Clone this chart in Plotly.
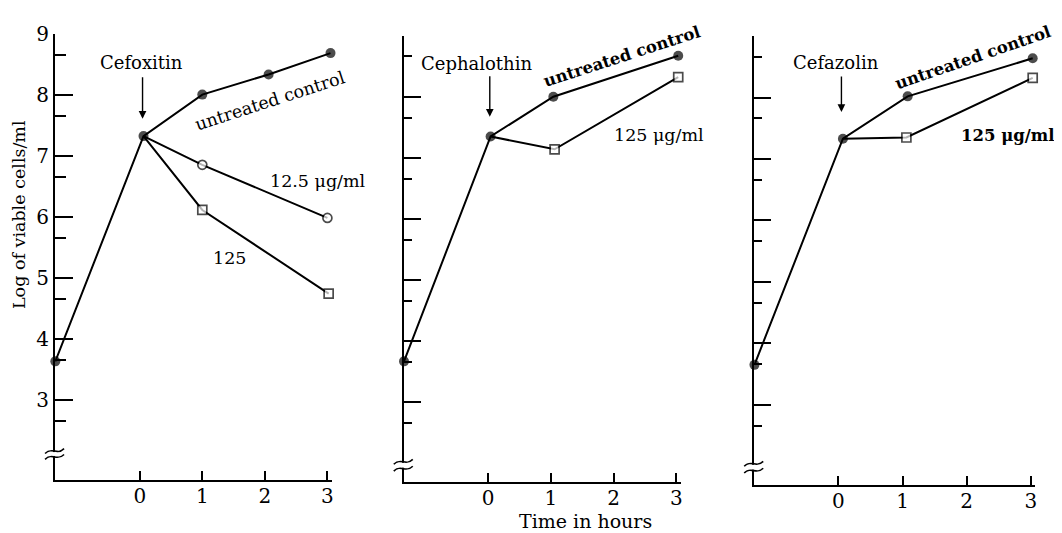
import plotly.graph_objects as go

# ---------------- data ----------------
hour_ticks = [0, 1, 2, 3]
hour_labels = ["0", "1", "2", "3"]
log_ticks = [3, 4, 5, 6, 7, 8, 9]
log_labels = ["3", "4", "5", "6", "7", "8", "9"]
log_minor = [2.66, 3.66, 4.66, 5.66, 6.66, 7.66, 8.66]

# Panel 1 - Cefoxitin
cefox_ctrl_t = [-1.35, 0.06, 1.0, 2.06, 3.05]
cefox_ctrl_y = [3.64, 7.33, 8.01, 8.34, 8.69]
cefox_12_t = [0.06, 1.0, 3.0]
cefox_12_y = [7.33, 6.86, 5.99]
cefox_125_t = [0.06, 1.0, 3.02]
cefox_125_y = [7.33, 6.12, 4.75]

# Panel 2 - Cephalothin
ceph_ctrl_t = [-1.34, 0.04, 1.04, 3.03]
ceph_ctrl_y = [3.67, 7.35, 8.00, 8.67]
ceph_125_t = [0.04, 1.06, 3.03]
ceph_125_y = [7.35, 7.14, 8.32]

# Panel 3 - Cefazolin
cefaz_ctrl_t = [-1.31, 0.07, 1.08, 3.03]
cefaz_ctrl_y = [3.65, 7.33, 8.02, 8.64]
cefaz_125_t = [0.07, 1.06, 3.03]
cefaz_125_y = [7.33, 7.35, 8.32]

# ---------------- layout helpers ----------------
W, H = 1062, 533
FONT = "DejaVu Serif"
# the page body has an 8 px margin, so the plotly paper starts at (8, 8)
PX0, PW, PY0, PH = 8.0, float(W), 8.0, float(H)


def px(x):
    return (x - PX0) / PW


def py(y):
    return 1 - (y - PY0) / PH


XMAX = 3.07
YMIN, YMAX = 1.69, 9.0

panels = [
    dict(start=cefox_ctrl_t[0], t0=140.0, t3=328.0, ytop=22.5, ybot=479.0,
         mj=18, mn=11, labels=True, brk=(449, 455)),
    dict(start=ceph_ctrl_t[0], t0=489.0, t3=677.6, ytop=24.0, ybot=481.0,
         mj=17, mn=8, labels=False, brk=(460, 467)),
    dict(start=cefaz_ctrl_t[0], t0=840.0, t3=1032.7, ytop=24.5, ybot=484.0,
         mj=17, mn=8, labels=False, brk=(462, 469)),
]

fig = go.Figure()

LINE = dict(color="black", width=2)


def add_series(t, y, ax, symbol, first_hidden, filled_marker):
    n = len(t)
    if filled_marker:
        sizes = [0 if (first_hidden and i == 0) else 10 for i in range(n)]
        marker = dict(symbol=symbol, size=sizes, color="black", line=dict(width=0))
    else:
        sizes = [0 if (first_hidden and i == 0) else 9 for i in range(n)]
        marker = dict(symbol=symbol, size=sizes, color="white",
                      line=dict(color="black", width=1.7))
    fig.add_trace(go.Scatter(x=t, y=y, mode="lines+markers", line=LINE,
                             marker=marker, xaxis="x" + ax, yaxis="y" + ax,
                             cliponaxis=False, showlegend=False,
                             hoverinfo="x+y"))


# panel 1
add_series(cefox_12_t, cefox_12_y, "", "circle", True, False)
add_series(cefox_125_t, cefox_125_y, "", "square", True, False)
add_series(cefox_ctrl_t, cefox_ctrl_y, "", "circle", False, True)
# panel 2
add_series(ceph_125_t, ceph_125_y, "2", "square", True, False)
add_series(ceph_ctrl_t, ceph_ctrl_y, "2", "circle", False, True)
# panel 3
add_series(cefaz_125_t, cefaz_125_y, "3", "square", True, False)
add_series(cefaz_ctrl_t, cefaz_ctrl_y, "3", "circle", False, True)

layout = dict(width=W, height=H, margin=dict(l=0, r=0, t=0, b=0, pad=0),
              paper_bgcolor="white", plot_bgcolor="white", showlegend=False,
              font=dict(family=FONT, color="black"))

shapes = []
for i, p in enumerate(panels):
    sfx = "" if i == 0 else str(i + 1)
    unit = (p["t3"] - p["t0"]) / 3.0
    xmin = p["start"] - 0.004
    xleft = p["t0"] + xmin * unit
    xright = p["t0"] + XMAX * unit
    layout["xaxis" + sfx] = dict(
        domain=[px(xleft), px(xright)], range=[xmin, XMAX],
        anchor="y" + sfx, tickvals=hour_ticks, ticktext=hour_labels,
        ticks="inside", ticklen=9, tickwidth=1.6, tickcolor="black",
        ticklabelstandoff=-3,
        showline=True, linewidth=2, linecolor="black", showgrid=False,
        zeroline=False, tickfont=dict(family=FONT, size=20, color="black"),
        fixedrange=True)
    layout["yaxis" + sfx] = dict(
        domain=[py(p["ybot"]), py(p["ytop"])], range=[YMIN, YMAX],
        anchor="x" + sfx, tickvals=log_ticks, ticktext=log_labels,
        showticklabels=p["labels"], ticks="inside", ticklen=p["mj"],
        tickwidth=1.6, tickcolor="black", showline=True, linewidth=2,
        linecolor="black", showgrid=False, zeroline=False,
        tickfont=dict(family=FONT, size=20, color="black"),
        minor=dict(tickvals=log_minor, ticks="inside", ticklen=p["mn"],
                   tickwidth=1.6, tickcolor="black", showgrid=False),
        fixedrange=True)
    # axis break on the y axis
    ax = xleft
    y1, y2 = p["brk"]
    shapes.append(dict(type="rect", xref="paper", yref="paper",
                       x0=px(ax - 3), x1=px(ax + 3), y0=py(y2 - 1), y1=py(y1 + 1),
                       fillcolor="white", line=dict(width=0), layer="above"))
    for yy in (y1, y2):
        path = "M {:.5f},{:.5f} C {:.5f},{:.5f} {:.5f},{:.5f} {:.5f},{:.5f}".format(
            px(ax - 10), py(yy + 2.5), px(ax - 3), py(yy - 5),
            px(ax + 2), py(yy + 5), px(ax + 9), py(yy - 2.5))
        shapes.append(dict(type="path", xref="paper", yref="paper", path=path,
                           line=dict(color="black", width=1.6), layer="above"))

layout["shapes"] = shapes


def txt(x, y, s, size=18, bold=False, angle=0):
    if bold:
        s = "<b>" + s + "</b>"
    return dict(x=px(x), y=py(y), xref="paper", yref="paper", text=s,
                showarrow=False, textangle=angle, xanchor="center",
                yanchor="middle", font=dict(family=FONT, size=size, color="black"))


def arrow(x, ytail, ytip):
    return dict(x=px(x), y=py(ytip), xref="paper", yref="paper", text="",
                showarrow=True, ax=0, ay=-(ytip - ytail), axref="pixel",
                ayref="pixel", arrowhead=2, arrowsize=1.1, arrowwidth=1.4,
                arrowcolor="black", standoff=0, startstandoff=0)


annotations = [
    txt(18.5, 207, "Log of viable cells/ml", size=17.5, angle=-90),
    txt(587, 521, "Time in hours", size=19),
    # panel 1
    txt(142, 51, "Cefoxitin"),
    arrow(142.8, 66, 109),
    txt(270, 91, "untreated control", size=17.5, angle=-18),
    txt(319, 173, "12.5 \u03bcg/ml", size=17.5),
    txt(230, 251, "125", size=17.5),
    # panel 2
    txt(477, 53, "Cephalothin"),
    arrow(490.7, 65, 107),
    txt(623, 45, "untreated control", size=16.5, bold=True, angle=-18),
    txt(660, 126, "125 \u03bcg/ml", size=17.5),
    # panel 3
    txt(838, 51, "Cefazolin"),
    arrow(843, 65, 102),
    txt(975, 46, "untreated control", size=16.5, bold=True, angle=-19),
    txt(1010, 126, "125 \u03bcg/ml", size=16.5, bold=True),
]
layout["annotations"] = annotations

fig.update_layout(**layout)
fig.write_html("out.html")
